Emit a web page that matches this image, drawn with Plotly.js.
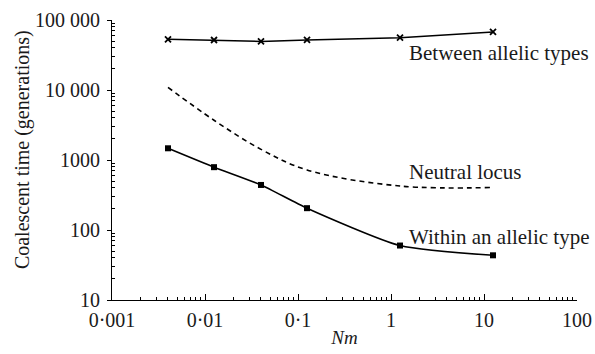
<!DOCTYPE html>
<html>
<head>
<meta charset="utf-8">
<script src="https://cdn.plot.ly/plotly-3.0.1.min.js"></script>
<style>html,body{margin:0;padding:0;background:#fff;}#chart{width:595px;height:354px;}</style>
</head>
<body>
<div id="chart"></div>
<script>
// Data
var nm = [0.004, 0.0125, 0.04, 0.125, 1.25, 12.5];
var betweenTypes = [53000, 51800, 49500, 52000, 56000, 67500];
var neutralLocus = [10900, 3700, 1420, 720, 425, 405];
var withinType = [1470, 790, 440, 205, 60, 43.5];

var xTickVals = [0.001, 0.01, 0.1, 1, 10, 100];
var xTickText = ['0·001', '0·01', '0·1', '1', '10', '100'];
var yTickVals = [10, 100, 1000, 10000, 100000];
var yTickText = ['10', '100', '1000', '10 000', '100 000'];

function minorVals(lo, hi) {
  var out = [];
  for (var d = lo; d < hi; d *= 10) {
    for (var k = 2; k <= 9; k++) out.push(d * k);
  }
  return out;
}

var FONT = 'Liberation Serif';
var INK = '#1a1a1a';

var traces = [
  {
    x: nm, y: betweenTypes, type: 'scatter', mode: 'lines+markers',
    line: {color: '#000', width: 1.5},
    marker: {symbol: 'x-thin-open', size: 6, color: '#000', line: {width: 1.8, color: '#000'}},
    hoverinfo: 'skip'
  },
  {
    x: nm, y: neutralLocus, type: 'scatter', mode: 'lines',
    line: {color: '#000', width: 1.6, dash: '5px,4px', shape: 'spline', smoothing: 1},
    hoverinfo: 'skip'
  },
  {
    x: nm, y: withinType, type: 'scatter', mode: 'lines+markers',
    line: {color: '#000', width: 1.6, shape: 'spline', smoothing: 0.6},
    marker: {symbol: 'square', size: 6, color: '#000'},
    hoverinfo: 'skip'
  }
];

var layout = {
  width: 595, height: 354,
  margin: {l: 112, r: 18, t: 20, b: 54},
  paper_bgcolor: '#fff', plot_bgcolor: '#fff',
  showlegend: false,
  font: {family: FONT, size: 20, color: INK},
  xaxis: {
    type: 'log', range: [-3, 2],
    tickmode: 'array', tickvals: xTickVals, ticktext: xTickText,
    ticks: 'inside', ticklen: 6, tickwidth: 1, tickcolor: '#000',
    showline: true, linecolor: '#000', linewidth: 1,
    showgrid: false, zeroline: false,
    ticklabelstandoff: 2,
    tickfont: {family: FONT, size: 20, color: INK},
    minor: {tickmode: 'array', tickvals: minorVals(0.001, 100), ticks: 'inside', ticklen: 3, tickcolor: '#000', showgrid: false},
    title: {text: '<i>Nm</i>', font: {family: FONT, size: 19, color: INK}, standoff: 0}
  },
  yaxis: {
    type: 'log', range: [1, 5],
    tickmode: 'array', tickvals: yTickVals, ticktext: yTickText,
    ticks: 'outside', ticklen: 4, tickwidth: 1, tickcolor: '#000',
    showline: true, linecolor: '#000', linewidth: 1,
    showgrid: false, zeroline: false,
    ticklabelstandoff: 3,
    tickfont: {family: FONT, size: 20, color: INK},
    minor: {tickmode: 'array', tickvals: minorVals(10, 100000), ticks: 'inside', ticklen: 3, tickcolor: '#000', showgrid: false}
  },
  annotations: [
    {text: 'Coalescent time (generations)', textangle: -90, xref: 'paper', yref: 'paper', x: -0.191, y: 0.536, xanchor: 'center', yanchor: 'middle', showarrow: false, font: {family: FONT, size: 20, color: INK}},
    {text: 'Between allelic types', xref: 'paper', yref: 'paper', x: 0.634, y: 0.882, xanchor: 'left', yanchor: 'middle', showarrow: false, font: {family: FONT, size: 21, color: INK}},
    {text: 'Neutral locus', xref: 'paper', yref: 'paper', x: 0.634, y: 0.457, xanchor: 'left', yanchor: 'middle', showarrow: false, font: {family: FONT, size: 21, color: INK}},
    {text: 'Within an allelic type', xref: 'paper', yref: 'paper', x: 0.634, y: 0.225, xanchor: 'left', yanchor: 'middle', showarrow: false, font: {family: FONT, size: 21, color: INK}}
  ]
};

Plotly.newPlot('chart', traces, layout, {staticPlot: true, displayModeBar: false});
</script>
</body>
</html>
